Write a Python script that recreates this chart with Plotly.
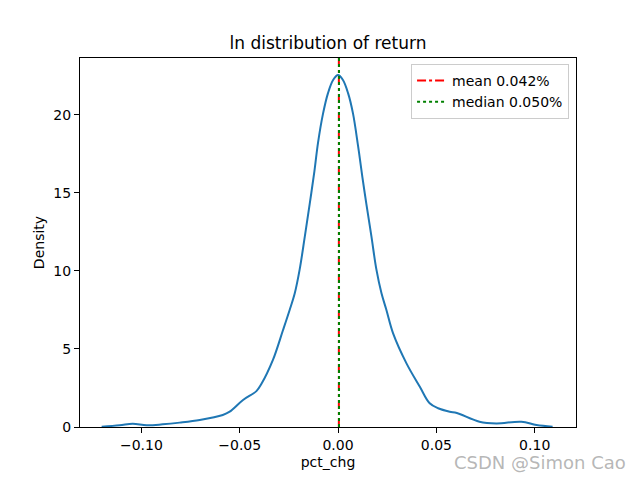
import plotly.graph_objects as go

# ----------------------------- Data -----------------------------
pct_chg = [-0.1202, -0.1110, -0.1044, -0.0973, -0.0892, -0.0805, -0.0703, -0.0586, -0.0551,
           -0.0483, -0.0415, -0.0390, -0.0331, -0.0280, -0.0246, -0.0220, -0.0195, -0.0169,
           -0.0144, -0.0120, -0.0102, -0.0076, -0.0051, -0.0025, 0.0000, 0.0025, 0.0051,
           0.0076, 0.0102, 0.0124, 0.0144, 0.0170, 0.0195, 0.0221, 0.0246, 0.0280, 0.0348,
           0.0416, 0.0466, 0.0509, 0.0568, 0.0604, 0.0719, 0.0805, 0.0932, 0.1009, 0.1091]
density = [0.02, 0.11, 0.21, 0.11, 0.17, 0.28, 0.45, 0.77, 0.98,
           1.73, 2.30, 2.75, 4.30, 6.20, 7.50, 8.57, 10.1, 12.2,
           14.3, 16.4, 18.2, 20.1, 21.4, 22.24, 22.56, 22.24, 21.4,
           20.1, 18.0, 16.0, 14.3, 12.2, 10.1, 8.57, 7.50, 6.00, 4.08,
           2.58, 1.52, 1.20, 0.98, 0.90, 0.34, 0.23, 0.34, 0.13, 0.02]

mean_val = 0.00042
median_val = 0.00050
mean_label = 'mean 0.042%'
median_label = 'median 0.050%'

x_ticks = [-0.10, -0.05, 0.00, 0.05, 0.10]
y_ticks = [0, 5, 10, 15, 20]
x_range = [-0.1312, 0.1210]
y_range = [0, 23.65]

FONT = 'DejaVu Sans'

# ----------------------------- Figure -----------------------------
fig = go.Figure()

fig.add_trace(go.Scatter(
    x=pct_chg, y=density,
    mode='lines',
    line=dict(color='#1f77b4', width=2, shape='spline', smoothing=1.0),
    showlegend=False,
))

# axvline-style markers for mean and median (full axis height)
fig.add_trace(go.Scatter(
    x=[mean_val, mean_val], y=y_range,
    mode='lines',
    line=dict(color='red', width=2, dash='dashdot'),
    name=mean_label,
))
fig.add_trace(go.Scatter(
    x=[median_val, median_val], y=y_range,
    mode='lines',
    line=dict(color='green', width=2, dash='dot'),
    name=median_label,
))

axis_style = dict(
    showgrid=False, zeroline=False,
    showline=True, linecolor='black', linewidth=1, mirror=True,
    ticks='outside', ticklen=5, tickcolor='black', tickwidth=1,
    tickfont=dict(family=FONT, size=14, color='black'),
)

fig.update_xaxes(
    range=x_range, tickvals=x_ticks, tickformat='.2f',
    title=dict(text='pct_chg', font=dict(family=FONT, size=14, color='black'), standoff=5),
    **axis_style
)
fig.update_yaxes(
    range=y_range, tickvals=y_ticks,
    title=dict(text='Density', font=dict(family=FONT, size=14, color='black'), standoff=5),
    **axis_style
)

# page body adds an 8px offset, so the figure is 632x472 with margins set to match
fig.update_layout(
    width=632, height=472,
    template='plotly_white',
    plot_bgcolor='white', paper_bgcolor='white',
    margin=dict(l=72, r=64, t=50, b=53, autoexpand=False),
    font=dict(family=FONT, size=14, color='black'),
    title=dict(text='ln distribution of return', xref='paper', x=0.5, xanchor='center',
               y=0.926, yanchor='middle', font=dict(family=FONT, size=17, color='black')),
    legend=dict(x=0.986, y=0.984, xanchor='right', yanchor='top',
                bgcolor='rgba(255,255,255,0.8)', bordercolor='#cccccc', borderwidth=1,
                font=dict(family=FONT, size=14, color='black'),
                itemwidth=30),
)

# watermark
fig.add_annotation(
    text='CSDN @Simon Cao', xref='paper', yref='paper',
    x=1.105, y=-0.095, xanchor='right', yanchor='middle', showarrow=False,
    font=dict(family=FONT, size=18, color='rgba(170,170,170,0.85)'),
)

fig.write_html("out.html")
